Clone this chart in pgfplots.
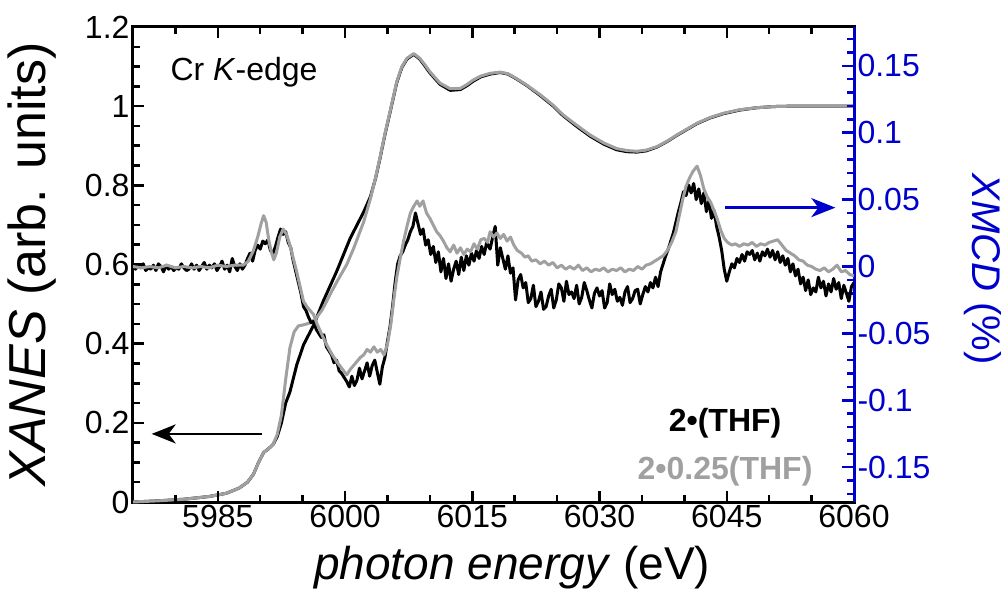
\documentclass[border=0pt]{standalone}
\usepackage{fontspec}
\setmainfont{Liberation Sans}
\usepackage{pgfplots}
\pgfplotsset{compat=1.18}
\usetikzlibrary{arrows.meta}
\definecolor{lgray}{RGB}{160,160,160}
\definecolor{myblue}{RGB}{0,0,205}

\pgfplotstableread{
E y
5975 0.0
5978 0.003
5981 0.007
5984 0.014
5986 0.022
5987.5 0.035
5988.5 0.05
5989.2 0.07
5989.8 0.10
5990.4 0.125
5991 0.135
5991.5 0.145
5992 0.165
5992.5 0.20
5993 0.25
5993.5 0.278
5994.3 0.346
5995.1 0.397
5996.3 0.447
5997.4 0.506
5999 0.582
6000.6 0.666
6002.2 0.733
6003 0.772
6003.6 0.818
6004.1 0.866
6004.7 0.928
6005.3 0.984
6006.1 1.060
6006.7 1.098
6007.3 1.119
6008.1 1.131
6008.8 1.119
6009.4 1.102
6010 1.084
6011.2 1.055
6012.4 1.040
6013.6 1.042
6014.4 1.052
6015.1 1.063
6016 1.074
6017.1 1.081
6018.3 1.085
6019.2 1.081
6020.2 1.069
6021.5 1.051
6023 1.027
6024.5 1.001
6025.7 0.976
6027.3 0.949
6028.9 0.924
6030.5 0.904
6032 0.890
6033.2 0.885
6034.4 0.884
6035.5 0.887
6036.8 0.897
6038 0.911
6039.1 0.926
6040.3 0.941
6041.5 0.956
6043 0.970
6044.6 0.981
6046.5 0.990
6048.5 0.996
6050.5 0.999
6052.5 1.0
6056 1.0
6060 1.0
}\xanesA

\pgfplotstableread{
E y
5975 0.0
5978 0.003
5981 0.007
5984 0.014
5986 0.022
5987.5 0.035
5988.5 0.05
5989.2 0.07
5989.8 0.10
5990.4 0.125
5991 0.135
5991.5 0.145
5992 0.17
5992.5 0.22
5993 0.31
5993.5 0.39
5994 0.43
5994.5 0.445
5995 0.447
5995.8 0.452
5996.5 0.462
5997.3 0.485
5998.2 0.523
5999 0.555
6000.2 0.60
6001 0.64
6002.2 0.708
6003 0.767
6003.6 0.82
6004.1 0.868
6004.7 0.93
6005.3 0.986
6006.1 1.062
6006.7 1.10
6007.3 1.121
6008.1 1.133
6008.8 1.121
6009.4 1.105
6010 1.087
6011.2 1.058
6012.4 1.044
6013.6 1.045
6014.4 1.055
6015.1 1.066
6016 1.076
6017.1 1.083
6018.3 1.086
6019.2 1.082
6020.2 1.07
6021.5 1.052
6023 1.029
6024.5 1.003
6025.7 0.978
6027.3 0.952
6028.9 0.927
6030.5 0.907
6032 0.893
6033.2 0.888
6034.4 0.886
6035.5 0.889
6036.8 0.898
6038 0.912
6039.1 0.927
6040.3 0.942
6041.5 0.957
6043 0.971
6044.6 0.982
6046.5 0.991
6048.5 0.996
6050.5 0.999
6052.5 1.0
6056 1.0
6060 1.0
}\xanesB

\pgfplotstableread{
E y
5975.0 0.000
5975.3 -0.002
5975.6 0.001
5975.9 -0.001
5976.2 0.002
5976.5 -0.003
5976.8 -0.001
5977.1 -0.002
5977.4 0.001
5977.7 -0.003
5978.0 0.002
5978.3 0.000
5978.6 -0.004
5978.9 0.001
5979.2 -0.002
5979.5 0.000
5979.8 -0.003
5980.1 -0.001
5980.4 -0.002
5980.7 0.002
5981.0 -0.001
5981.3 -0.003
5981.6 -0.002
5981.9 0.002
5982.2 -0.002
5982.5 0.001
5982.8 -0.003
5983.1 0.000
5983.4 0.003
5983.7 -0.002
5984.0 0.001
5984.3 -0.001
5984.6 0.002
5984.9 -0.003
5985.2 0.000
5985.5 0.004
5985.8 -0.002
5986.1 0.001
5986.4 -0.004
5986.7 0.006
5987.0 0.000
5987.3 -0.003
5987.6 0.002
5987.9 -0.002
5988.2 0.001
5988.5 0.006
5988.8 0.010
5989.1 0.004
5989.4 0.012
5989.7 0.016
5990.0 0.013
5990.3 0.019
5990.6 0.017
5990.9 0.020
5991.2 0.012
5991.5 0.010
5991.8 0.015
5992.1 0.022
5992.4 0.028
5992.7 0.024
5993.0 0.026
5993.3 0.018
5993.6 0.014
5993.9 0.004
5994.2 -0.004
5994.5 -0.012
5994.8 -0.020
5995.1 -0.030
5995.4 -0.033
5995.7 -0.038
5996.0 -0.042
5996.3 -0.041
5996.6 -0.047
5996.9 -0.050
5997.2 -0.053
5997.5 -0.051
5997.8 -0.060
5998.1 -0.063
5998.4 -0.066
5998.7 -0.072
5999.0 -0.070
5999.3 -0.078
5999.6 -0.080
5999.9 -0.083
6000.2 -0.086
6000.5 -0.090
6000.8 -0.082
6001.1 -0.089
6001.4 -0.085
6001.7 -0.076
6002.0 -0.084
6002.3 -0.078
6002.6 -0.072
6002.9 -0.082
6003.2 -0.074
6003.5 -0.070
6003.8 -0.079
6004.1 -0.088
6004.4 -0.075
6004.7 -0.068
6005.0 -0.056
6005.3 -0.045
6005.6 -0.030
6005.9 -0.012
6006.2 0.002
6006.5 0.008
6006.8 0.011
6007.1 0.016
6007.4 0.020
6007.7 0.026
6008.0 0.030
6008.3 0.040
6008.6 0.032
6008.9 0.024
6009.2 0.028
6009.5 0.016
6009.8 0.020
6010.1 0.009
6010.4 0.015
6010.7 0.003
6011.0 0.011
6011.3 -0.004
6011.6 0.006
6011.9 -0.009
6012.2 0.002
6012.5 -0.011
6012.8 -0.002
6013.1 0.004
6013.4 -0.006
6013.7 0.007
6014.0 -0.003
6014.3 0.008
6014.6 0.001
6014.9 0.010
6015.2 0.004
6015.5 0.012
6015.8 0.006
6016.1 0.015
6016.4 0.009
6016.7 0.018
6017.1 0.013
6017.4 0.022
6017.7 0.030
6018.0 0.001
6018.3 0.014
6018.6 0.006
6018.9 -0.002
6019.2 0.008
6019.5 -0.005
6019.8 -0.001
6020.1 -0.025
6020.4 -0.010
6020.7 -0.006
6021.0 -0.016
6021.3 -0.012
6021.6 -0.027
6021.9 -0.024
6022.2 -0.014
6022.5 -0.030
6022.8 -0.026
6023.1 -0.019
6023.4 -0.032
6023.7 -0.030
6024.0 -0.022
6024.3 -0.017
6024.6 -0.031
6024.9 -0.025
6025.2 -0.013
6025.5 -0.016
6025.8 -0.026
6026.1 -0.011
6026.4 -0.021
6026.7 -0.019
6027.0 -0.024
6027.3 -0.014
6027.6 -0.028
6027.9 -0.023
6028.2 -0.012
6028.5 -0.018
6028.8 -0.025
6029.1 -0.031
6029.4 -0.020
6029.7 -0.016
6030.0 -0.022
6030.3 -0.018
6030.6 -0.031
6030.9 -0.027
6031.2 -0.013
6031.5 -0.021
6031.8 -0.017
6032.1 -0.026
6032.4 -0.023
6032.7 -0.029
6033.0 -0.019
6033.3 -0.015
6033.6 -0.027
6033.9 -0.024
6034.2 -0.018
6034.5 -0.017
6034.8 -0.028
6035.1 -0.021
6035.4 -0.015
6035.7 -0.019
6036.0 -0.012
6036.3 -0.016
6036.6 -0.008
6036.9 -0.015
6037.2 -0.004
6037.5 0.002
6037.8 0.008
6038.1 0.013
6038.4 0.019
6038.7 0.025
6039.0 0.033
6039.3 0.041
6039.6 0.048
6039.9 0.056
6040.2 0.053
6040.5 0.061
6040.8 0.055
6041.1 0.062
6041.4 0.050
6041.7 0.058
6042.0 0.047
6042.3 0.055
6042.6 0.041
6042.9 0.049
6043.2 0.036
6043.5 0.042
6043.8 0.030
6044.1 0.022
6044.4 0.012
6044.7 -0.002
6045.0 -0.011
6045.3 -0.004
6045.6 0.002
6045.9 -0.001
6046.2 0.006
6046.5 0.003
6046.8 0.009
6047.1 0.004
6047.4 0.011
6047.7 0.009
6048.0 0.012
6048.3 0.005
6048.6 0.010
6048.9 0.004
6049.2 0.011
6049.5 0.008
6049.8 0.013
6050.1 0.007
6050.4 0.012
6050.7 0.005
6051.0 0.011
6051.3 0.003
6051.6 0.008
6051.9 0.001
6052.2 0.006
6052.5 -0.004
6052.8 0.002
6053.1 -0.007
6053.4 -0.002
6053.7 -0.013
6054.0 -0.008
6054.3 -0.018
6054.6 -0.010
6054.9 -0.021
6055.2 -0.016
6055.5 -0.019
6055.8 -0.008
6056.1 -0.016
6056.4 -0.011
6056.7 -0.022
6057.0 -0.013
6057.3 -0.019
6057.6 -0.009
6057.9 -0.017
6058.2 -0.012
6058.5 -0.024
6058.8 -0.014
6059.1 -0.020
6059.4 -0.026
6059.7 -0.015
6060.0 -0.012
}\xmcdA

\pgfplotstableread{
E y
5975.0 0.000
5976 -0.001
5977 0.000
5978 -0.001
5979 0.001
5980 -0.001
5981 0.000
5982 -0.001
5983 0.000
5984 -0.001
5985 0.001
5986 0.000
5987 0.001
5988 0.001
5988.6 0.004
5989.2 0.012
5989.7 0.022
5990.1 0.032
5990.4 0.038
5990.7 0.033
5991.0 0.020
5991.3 0.011
5991.6 0.005
5991.9 0.010
5992.3 0.022
5992.7 0.028
5993.1 0.024
5993.5 0.016
5993.9 0.006
5994.3 -0.004
5994.7 -0.015
5995.1 -0.026
5995.5 -0.030
5995.9 -0.033
5996.3 -0.036
5996.7 -0.043
5997.2 -0.050
5997.8 -0.058
5998.4 -0.065
5999.0 -0.071
5999.6 -0.076
6000.2 -0.081
6000.6 -0.077
6001.0 -0.074
6001.4 -0.071
6001.8 -0.068
6002.2 -0.066
6002.6 -0.062
6003.0 -0.064
6003.4 -0.060
6003.8 -0.064
6004.2 -0.062
6004.6 -0.066
6005.0 -0.058
6005.4 -0.043
6005.8 -0.022
6006.1 -0.008
6006.5 0.006
6006.9 0.019
6007.3 0.030
6007.7 0.040
6008.1 0.045
6008.5 0.049
6008.8 0.045
6009.2 0.049
6009.6 0.040
6010.0 0.036
6010.4 0.031
6010.8 0.026
6011.2 0.023
6011.6 0.019
6012.0 0.014
6012.4 0.011
6012.8 0.016
6013.2 0.010
6013.6 0.014
6014.0 0.009
6014.4 0.013
6014.8 0.011
6015.2 0.017
6015.6 0.013
6016.0 0.020
6016.4 0.021
6016.8 0.018
6017.1 0.026
6017.5 0.022
6017.9 0.025
6018.3 0.021
6018.7 0.024
6019.1 0.019
6019.5 0.022
6019.9 0.016
6020.3 0.012
6020.8 0.010
6021.2 0.007
6021.6 0.008
6022.0 0.004
6022.5 0.005
6023 0.002
6023.5 0.004
6024 0.001
6024.5 0.003
6025 -0.001
6025.5 0.001
6026 -0.002
6026.5 0.000
6027 -0.002
6027.5 0.001
6028 -0.003
6028.5 -0.001
6029 -0.004
6029.5 -0.002
6030 -0.003
6030.5 -0.001
6031 -0.004
6031.5 -0.002
6032 -0.003
6032.5 -0.001
6033 -0.004
6033.5 -0.002
6034 -0.003
6034.5 0.000
6035 -0.002
6035.5 0.001
6036 0.002
6036.5 0.004
6037 0.006
6037.5 0.008
6038 0.012
6038.5 0.018
6039 0.026
6039.4 0.038
6039.8 0.050
6040.2 0.060
6040.6 0.066
6041.0 0.071
6041.5 0.075
6041.9 0.068
6042.3 0.058
6042.7 0.052
6043.1 0.048
6043.5 0.042
6043.9 0.035
6044.3 0.027
6044.7 0.021
6045.1 0.018
6045.6 0.016
6046 0.017
6046.5 0.015
6047 0.017
6047.5 0.016
6048 0.018
6048.5 0.015
6049 0.017
6049.5 0.016
6050 0.018
6050.5 0.019
6051 0.020
6051.5 0.016
6052 0.012
6052.5 0.010
6053 0.008
6053.5 0.005
6054 0.004
6054.5 0.001
6055 0.000
6055.5 -0.002
6056 -0.003
6056.5 -0.001
6057 -0.004
6057.5 -0.002
6058 0.001
6058.5 -0.004
6059 -0.003
6059.5 -0.006
6060 -0.007
}\xmcdB

\begin{document}
\begin{tikzpicture}
\begin{axis}[
  name=main,
  scale only axis, width=721pt, height=475pt,
  xmin=5975, xmax=6060, ymin=0, ymax=1.2,
  axis line style={line width=3pt, black},
  xtick={5985,6000,6015,6030,6045,6060},
  xticklabels={5985,6000,6015,6030,6045,6060},
  ytick={0,0.2,0.4,0.6,0.8,1,1.2},
  yticklabels={0,0.2,0.4,0.6,0.8,1,1.2},
  ytick pos=left,
  tick align=inside,
  major tick length=11pt,
  major tick style={line width=2.5pt, black},
  tick label style={font=\fontsize{32}{36}\selectfont},
  xlabel={\textit{photon energy} (eV)},
  xlabel style={font=\fontsize{46}{52}\selectfont, at={(axis description cs:0.526,-0.164)}, anchor=base},
  ylabel={\textit{XANES} (arb. units)},
  ylabel style={font=\fontsize{52}{58}\selectfont, at={(axis description cs:-0.14,0.5)}, anchor=center},
  clip=false,
]
\addplot[black, line width=3pt, line join=round] table[x=E,y=y] {\xanesA};
\addplot[lgray, line width=3pt, line join=round] table[x=E,y=y] {\xanesB};
% frame tick marks: bottom and top (major 11pt, minor 7pt), left (major 11pt, minor 7pt)
\draw[line width=2.5pt, black, line cap=butt]
  (axis cs:5985,0) -- ++(0pt,11pt) (axis cs:6000,0) -- ++(0pt,11pt) (axis cs:6015,0) -- ++(0pt,11pt)
  (axis cs:6030,0) -- ++(0pt,11pt) (axis cs:6045,0) -- ++(0pt,11pt)
  (axis cs:5985,1.2) -- ++(0pt,-11pt) (axis cs:6000,1.2) -- ++(0pt,-11pt) (axis cs:6015,1.2) -- ++(0pt,-11pt)
  (axis cs:6030,1.2) -- ++(0pt,-11pt) (axis cs:6045,1.2) -- ++(0pt,-11pt)
  (axis cs:5980,0) -- ++(0pt,7pt) (axis cs:5990,0) -- ++(0pt,7pt) (axis cs:5995,0) -- ++(0pt,7pt)
  (axis cs:6005,0) -- ++(0pt,7pt) (axis cs:6010,0) -- ++(0pt,7pt) (axis cs:6020,0) -- ++(0pt,7pt)
  (axis cs:6025,0) -- ++(0pt,7pt) (axis cs:6035,0) -- ++(0pt,7pt) (axis cs:6040,0) -- ++(0pt,7pt)
  (axis cs:6050,0) -- ++(0pt,7pt) (axis cs:6055,0) -- ++(0pt,7pt)
  (axis cs:5980,1.2) -- ++(0pt,-7pt) (axis cs:5990,1.2) -- ++(0pt,-7pt) (axis cs:5995,1.2) -- ++(0pt,-7pt)
  (axis cs:6005,1.2) -- ++(0pt,-7pt) (axis cs:6010,1.2) -- ++(0pt,-7pt) (axis cs:6020,1.2) -- ++(0pt,-7pt)
  (axis cs:6025,1.2) -- ++(0pt,-7pt) (axis cs:6035,1.2) -- ++(0pt,-7pt) (axis cs:6040,1.2) -- ++(0pt,-7pt)
  (axis cs:6050,1.2) -- ++(0pt,-7pt) (axis cs:6055,1.2) -- ++(0pt,-7pt)
  (axis cs:5975,0.2) -- ++(11pt,0pt) (axis cs:5975,0.4) -- ++(11pt,0pt) (axis cs:5975,0.6) -- ++(11pt,0pt)
  (axis cs:5975,0.8) -- ++(11pt,0pt) (axis cs:5975,1.0) -- ++(11pt,0pt)
  (axis cs:5975,0.05) -- ++(7pt,0pt) (axis cs:5975,0.1) -- ++(7pt,0pt) (axis cs:5975,0.15) -- ++(7pt,0pt)
  (axis cs:5975,0.25) -- ++(7pt,0pt) (axis cs:5975,0.3) -- ++(7pt,0pt) (axis cs:5975,0.35) -- ++(7pt,0pt)
  (axis cs:5975,0.45) -- ++(7pt,0pt) (axis cs:5975,0.5) -- ++(7pt,0pt) (axis cs:5975,0.55) -- ++(7pt,0pt)
  (axis cs:5975,0.65) -- ++(7pt,0pt) (axis cs:5975,0.7) -- ++(7pt,0pt) (axis cs:5975,0.75) -- ++(7pt,0pt)
  (axis cs:5975,0.85) -- ++(7pt,0pt) (axis cs:5975,0.9) -- ++(7pt,0pt) (axis cs:5975,0.95) -- ++(7pt,0pt)
  (axis cs:5975,1.05) -- ++(7pt,0pt) (axis cs:5975,1.1) -- ++(7pt,0pt) (axis cs:5975,1.15) -- ++(7pt,0pt);
\draw[-{Stealth[length=24pt,width=19pt,inset=7pt]}, line width=2.4pt, black] (axis cs:5990.2,0.172) -- (axis cs:5977.2,0.172);
\node[anchor=west, inner sep=0, font=\fontsize{32}{38}\selectfont] at (axis cs:5979.4,1.086) {Cr \textit{K}-edge};
\node[inner sep=0, font=\bfseries\fontsize{32}{38}\selectfont, black] at (axis cs:6044.8,0.20) {2•(THF)};
\node[inner sep=0, font=\bfseries\fontsize{32}{38}\selectfont, text=lgray] at (axis cs:6044.8,0.078) {2•0.25(THF)};
\end{axis}
\begin{axis}[
  scale only axis, width=721pt, height=475pt,
  xmin=5975, xmax=6060, ymin=-0.176, ymax=0.179,
  axis x line=none, axis y line*=right,
  y axis line style={-, myblue, line width=3pt},
  ytick={-0.15,-0.1,-0.05,0,0.05,0.1,0.15},
  yticklabels={-0.15,-0.1,-0.05,0,0.05,0.1,0.15},
  minor ytick={-0.17,-0.16,...,0.175},
  tick align=inside,
  major tick length=12pt, minor tick length=7pt,
  major tick style={line width=2.5pt, myblue},
  minor tick style={line width=2.5pt, myblue},
  yticklabel style={font=\fontsize{32}{36}\selectfont, text=myblue},
  ylabel={\textit{XMCD} (\%)},
  ylabel style={font=\fontsize{40}{46}\selectfont, text=myblue, rotate=180, at={(axis description cs:1.179,0.49)}, anchor=center},
]
\addplot[black, line width=3pt, line join=round] table[x=E,y=y] {\xmcdA};
\addplot[lgray, line width=3pt, line join=round] table[x=E,y=y] {\xmcdB};
\draw[-{Stealth[length=24pt,width=19pt,inset=7pt]}, line width=2.4pt, myblue] (axis cs:6044.8,0.044) -- (axis cs:6057.8,0.044);
\end{axis}
\pgfresetboundingbox
\path ([shift={(-133pt,-92pt)}]main.south west) rectangle ([shift={(152pt,27pt)}]main.north east);
\end{tikzpicture}
\end{document}
